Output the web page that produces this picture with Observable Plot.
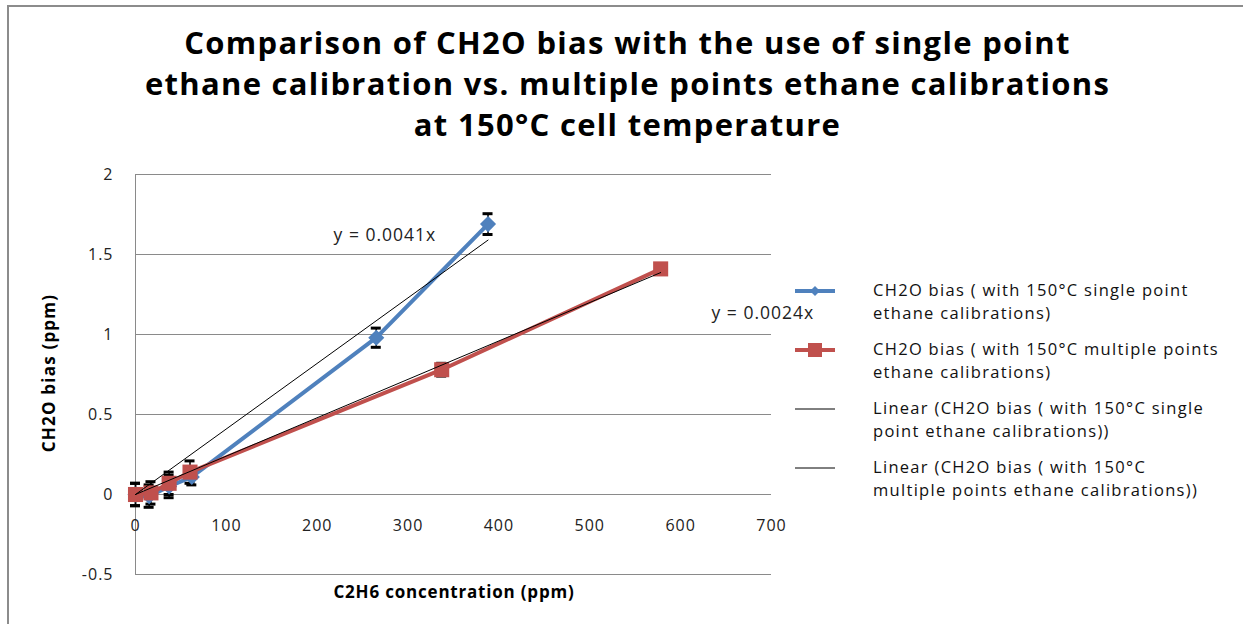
<!DOCTYPE html>
<html><head><meta charset="utf-8">
<script src="https://cdn.jsdelivr.net/npm/d3@7"></script>
<script src="https://cdn.jsdelivr.net/npm/@observablehq/plot@0.6"></script>
<style>
body{margin:0;background:#fff;font-family:"Open Sans",Lato,sans-serif;}
#wrap{position:relative;width:1243px;height:624px;overflow:hidden;background:#fff;}
#border{position:absolute;left:7px;top:5px;right:-5px;bottom:-5px;border-left:2px solid #8c8c8c;border-top:2px solid #8c8c8c;}
#title{position:absolute;left:0;top:22px;width:1255px;text-align:center;font-weight:bold;font-size:31px;letter-spacing:1.3px;line-height:41px;color:#000;}
#chart{position:absolute;left:0;top:150px;}
#ylab{position:absolute;left:48px;top:373px;transform:translate(-50%,-50%) rotate(-90deg);font-weight:bold;font-size:17px;letter-spacing:1.2px;white-space:nowrap;color:#000;}
#xlab{position:absolute;left:454px;top:591px;transform:translate(-50%,-50%);font-weight:bold;font-size:17px;letter-spacing:0.8px;white-space:nowrap;color:#000;}
#legend{position:absolute;left:795px;top:278px;font-size:16.5px;letter-spacing:1.3px;color:#111;}
.item{display:flex;align-items:flex-start;margin-bottom:13px;}
.item svg{flex:none;margin-right:38px;}
.item div{line-height:23px;}
</style></head>
<body>
<div id="wrap">
  <div id="border"></div>
  <div id="title"></div>
  <div id="chart"></div>
  <div id="ylab"></div>
  <div id="xlab"></div>
  <div id="legend"></div>
</div>
<script>
// ---- data ----
const titleLines = ["Comparison of CH2O bias with the use of single point",
                    "ethane calibration vs. multiple points ethane calibrations",
                    "at 150°C cell temperature"];
const xLabel = "C2H6 concentration (ppm)";
const yLabel = "CH2O bias (ppm)";
const xTicks = [0, 100, 200, 300, 400, 500, 600, 700];
const yTicks = [-0.5, 0, 0.5, 1, 1.5, 2];

const singleX   = [0, 15, 37, 62, 265, 388];
const singleY   = [0, -0.01, 0.05, 0.11, 0.98, 1.69];
const singleErr = [0.07, 0.07, 0.07, 0.05, 0.06, 0.065];

const multiX   = [0, 17, 37, 60, 337, 578];
const multiY   = [0, 0.01, 0.07, 0.14, 0.78, 1.41];
const multiErr = [0.07, 0.07, 0.07, 0.07, 0.04, 0.03];

const trendSingleX = [0, 388];
const trendSingleY = [0, 1.59];
const trendMultiX  = [0, 578];
const trendMultiY  = [0, 1.387];

const eqLabels = ["y = 0.0041x", "y = 0.0024x"];
const eqX = [218, 634];
const eqY = [1.62, 1.13];

const legendLabels = [
  ["CH2O bias ( with 150°C single point", "ethane calibrations)"],
  ["CH2O bias ( with 150°C multiple points", "ethane calibrations)"],
  ["Linear (CH2O bias ( with 150°C single", "point ethane calibrations))"],
  ["Linear (CH2O bias ( with 150°C", "multiple points ethane calibrations))"]
];
const blue = "#4F81BD", red = "#C0504D";

// ---- build ----
const single = singleX.map((x, i) => ({x, y: singleY[i], e: singleErr[i]}));
const multi = multiX.map((x, i) => ({x, y: multiY[i], e: multiErr[i]}));
const tS = trendSingleX.map((x, i) => ({x, y: trendSingleY[i]}));
const tM = trendMultiX.map((x, i) => ({x, y: trendMultiY[i]}));
const eqs = eqLabels.map((t, i) => ({t, x: eqX[i], y: eqY[i]}));
const cap = 5.5;

document.getElementById("title").innerHTML = titleLines.join("<br>");
document.getElementById("xlab").textContent = xLabel;
document.getElementById("ylab").textContent = yLabel;

const errMarks = (data) => [
  Plot.ruleX(data, {x: "x", y1: d => d.y - d.e, y2: d => d.y + d.e, stroke: "#000", strokeWidth: 1.5}),
  Plot.ruleY(data, {y: d => d.y - d.e, x1: d => d.x - cap, x2: d => d.x + cap, stroke: "#000", strokeWidth: 3}),
  Plot.ruleY(data, {y: d => d.y + d.e, x1: d => d.x - cap, x2: d => d.x + cap, stroke: "#000", strokeWidth: 3})
];

const chart = Plot.plot({
  width: 1243, height: 474,
  marginLeft: 135, marginRight: 472, marginTop: 24, marginBottom: 50,
  x: {domain: [0, 700], axis: null},
  y: {domain: [-0.5, 2], axis: null},
  style: {fontFamily: "'Open Sans', Lato, sans-serif", fontSize: "16px", letterSpacing: "1px", color: "#222", overflow: "visible"},
  marks: [
    Plot.ruleY(yTicks, {stroke: "#8a8a8a", strokeWidth: 1}),
    Plot.ruleX([0], {stroke: "#8a8a8a", strokeWidth: 1}),
    Plot.axisY(yTicks, {tickSize: 0, tickPadding: 22, label: null, tickFormat: d => String(d), fontSize: 16}),
    Plot.text(xTicks, {x: d => d, y: 0, dy: 31, text: d => String(d), fontSize: 16, fill: "#222"}),
    ...errMarks(multi),
    ...errMarks(single),
    Plot.line(single, {x: "x", y: "y", stroke: blue, strokeWidth: 4}),
    Plot.dot(single, {x: "x", y: "y", symbol: "diamond2", r: 6.3, fill: blue, stroke: blue}),
    Plot.line(multi, {x: "x", y: "y", stroke: red, strokeWidth: 4}),
    Plot.dot(multi, {x: "x", y: "y", symbol: "square", r: 8.5, fill: red}),
    Plot.line(tS, {x: "x", y: "y", stroke: "#000", strokeWidth: 1}),
    Plot.line(tM, {x: "x", y: "y", stroke: "#000", strokeWidth: 1}),
    Plot.text(eqs, {x: "x", y: "y", text: "t", textAnchor: "start", fontSize: 17.5, fill: "#222"})
  ]
});
document.getElementById("chart").appendChild(chart);

// legend
const leg = document.getElementById("legend");
legendLabels.forEach((lines, i) => {
  const item = document.createElement("div");
  item.className = "item";
  let sw = `<svg width="40" height="24"><line x1="0" x2="40" y1="13" y2="13" stroke="${i===0?blue:i===1?red:'#000'}" stroke-width="${i<2?4:1}"/>`;
  if (i === 0) sw += `<path d="M20,8 L25,13 L20,18 L15,13Z" fill="${blue}"/>`;
  if (i === 1) sw += `<rect x="13" y="6" width="14" height="14" fill="${red}"/>`;
  sw += `</svg>`;
  item.innerHTML = sw + `<div>${lines.join("<br>")}</div>`;
  leg.appendChild(item);
});
</script>
</body></html>
